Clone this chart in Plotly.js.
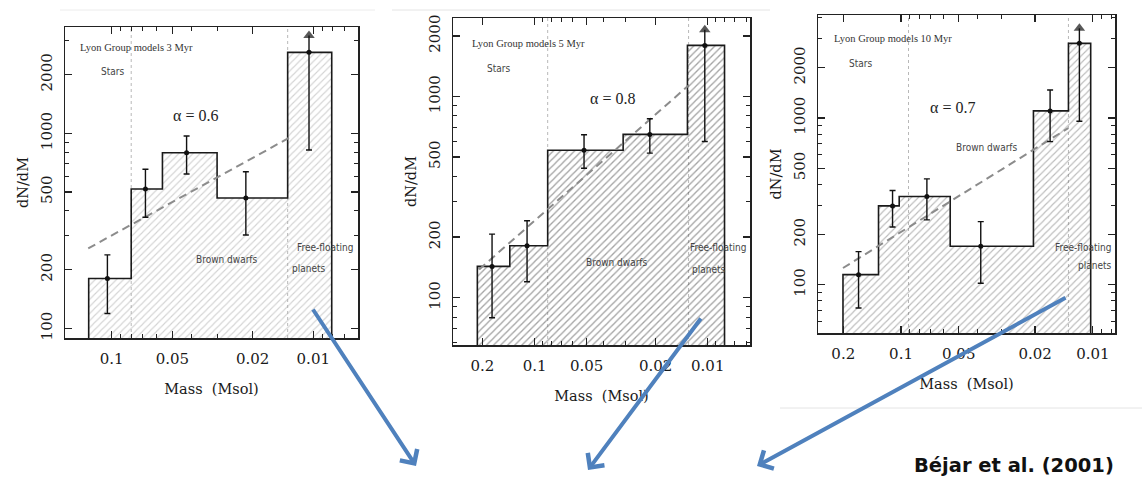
<!DOCTYPE html>
<html>
<head>
<meta charset="utf-8">
<script src="https://cdn.plot.ly/plotly-3.0.1.min.js"></script>
<style>
  html, body { margin: 0; padding: 0; background: #ffffff; }
  #chart { width: 1142px; height: 502px; }
</style>
</head>
<body>
<div id="chart"></div>
<script>
// Substellar mass functions in sigma Orionis for three model ages (Lyon group models)

// ---- 3 Myr ----
const edges3 = [0.130, 0.080, 0.056, 0.030, 0.0134, 0.0081];
const dndm3 = [180, 518, 795, 466, 2600];
const ptMass3 = [0.105, 0.068, 0.0425, 0.0216, 0.0105];
const errHi3 = [238, 654, 968, 635, 2600];
const errLo3 = [119, 371, 618, 301, 821];
const limitTip3 = 3170;
const fitMass3 = [0.1307, 0.01305];
const fitVal3 = [257, 953];
const bounds3 = [0.080, 0.0134];

// ---- 5 Myr ----
const edges5 = [0.214, 0.139, 0.084, 0.0308, 0.0131, 0.0080];
const dndm5 = [143, 181, 540, 648, 1794];
const ptMass5 = [0.176, 0.1105, 0.0518, 0.0216, 0.0104];
const errHi5 = [207, 241, 645, 775, 1794];
const errLo5 = [79.5, 120, 440, 523, 597];
const limitTip5 = 2146;
const fitMass5 = [0.209, 0.01297];
const fitVal5 = [138, 1130];
const bounds5 = [0.084, 0.0129];

// ---- 10 Myr ----
const edges10 = [0.2007, 0.131, 0.1022, 0.0554, 0.0204, 0.0134, 0.01026];
const dndm10 = [115, 297, 338, 170, 1102, 2800];
const ptMass10 = [0.1665, 0.1107, 0.0733, 0.0384, 0.0167, 0.01175];
const errHi10 = [158, 367, 431, 239, 1471, 2800];
const errLo10 = [72.5, 222, 245, 102, 721, 955];
const limitTip10 = 3444;
const fitMass10 = [0.2007, 0.01345];
const fitVal10 = [126, 868];
const bounds10 = [0.0914, 0.0134];

// tick labels
const massTicks3 = [0.1, 0.05, 0.02, 0.01];
const massTicks = [0.2, 0.1, 0.05, 0.02, 0.01];
const dndmTicks = [100, 200, 500, 1000, 2000];
const dndmTicks10 = [50, 100, 200, 500, 1000, 2000];

const W = 1142, H = 502;
const px = v => v / W;
const py = v => 1 - v / H;

const serif = 'DejaVu Serif, Liberation Serif, serif';
const narrow = 'Liberation Sans Narrow, DejaVu Sans Condensed, Liberation Sans, sans-serif';

const traces = [];
const shapes = [];

function panel(n, edges, vals, ptMass, hi, lo, tip, fitM, fitV, bounds, hatch) {
  const xa = n === 1 ? 'x' : 'x' + n;
  const ya = n === 1 ? 'y' : 'y' + n;
  // closed step outline of the histogram, down to a floor below the axis
  const floor = 1;
  const hx = [edges[0]], hy = [floor];
  for (let i = 0; i < vals.length; i++) {
    hx.push(edges[i], edges[i + 1]);
    hy.push(vals[i], vals[i]);
  }
  hx.push(edges[edges.length - 1]); hy.push(floor);
  traces.push({
    x: hx, y: hy, xaxis: xa, yaxis: ya, type: 'scatter', mode: 'lines',
    fill: 'toself', fillcolor: 'rgba(255,255,255,0)',
    fillpattern: { shape: '/', size: hatch.size, solidity: hatch.solidity, fgcolor: hatch.color, bgcolor: 'rgba(255,255,255,0)', fillmode: 'overlay' },
    line: { color: '#1a1a1a', width: 1.6 }, hoverinfo: 'skip', showlegend: false
  });
  // power-law fit
  traces.push({
    x: fitM, y: fitV, xaxis: xa, yaxis: ya, type: 'scatter', mode: 'lines',
    line: { color: '#8c8c8c', width: 2, dash: '8px,5px' }, hoverinfo: 'skip', showlegend: false
  });
  // data points with error bars
  const last = vals.length - 1;
  traces.push({
    x: ptMass, y: vals, xaxis: xa, yaxis: ya, type: 'scatter', mode: 'markers',
    marker: { color: '#111', size: 5 },
    error_y: {
      type: 'data', symmetric: false,
      array: hi.map((h, i) => h - vals[i]),
      arrayminus: lo.map((l, i) => vals[i] - l),
      color: '#111', thickness: 1.4, width: 3
    },
    hoverinfo: 'skip', showlegend: false
  });
  // lower limit arrow on the planetary-mass bin
  traces.push({
    x: [ptMass[last], ptMass[last]], y: [vals[last], tip], xaxis: xa, yaxis: ya,
    type: 'scatter', mode: 'lines+markers',
    line: { color: '#111', width: 1.4 },
    marker: { symbol: 'triangle-up', size: [0, 10], color: '#111', line: { width: 0 } },
    hoverinfo: 'skip', showlegend: false
  });
  // stars / brown dwarfs / planets boundaries
  bounds.forEach(b => shapes.push({
    type: 'line', xref: xa, yref: ya + ' domain', x0: b, x1: b, y0: 0, y1: 1,
    line: { color: '#b8b8b8', width: 1, dash: 'dot' }, layer: 'below'
  }));
}

panel(1, edges3, dndm3, ptMass3, errHi3, errLo3, limitTip3, fitMass3, fitVal3, bounds3,
  { color: '#a8a8a8', size: 5, solidity: 0.22 });
panel(2, edges5, dndm5, ptMass5, errHi5, errLo5, limitTip5, fitMass5, fitVal5, bounds5,
  { color: '#474747', size: 5, solidity: 0.26 });
panel(3, edges10, dndm10, ptMass10, errHi10, errLo10, limitTip10, fitMass10, fitVal10, bounds10,
  { color: '#777777', size: 5, solidity: 0.22 });

const minorTicks = { dtick: 'D1', ticks: 'inside', ticklen: 4, tickwidth: 1, tickcolor: '#222' };

function xAxis(domain, range, ticks, anchor) {
  return {
    type: 'log', domain: domain, range: range, autorange: false, anchor: anchor,
    tickmode: 'array', tickvals: ticks, ticktext: ticks.map(String),
    ticks: 'inside', ticklen: 7, tickwidth: 1.2, tickcolor: '#222',
    minor: minorTicks,
    showline: true, linecolor: '#222', linewidth: 1.5, mirror: 'allticks',
    showgrid: false, zeroline: false, ticklabelstandoff: 6,
    tickfont: { family: serif, size: 15, color: '#1a1a1a' },
    title: { text: 'Mass  (Msol)', font: { family: serif, size: 14.5, color: '#1a1a1a' }, standoff: 17 }
  };
}
function yAxis(domain, range, ticks, anchor) {
  return {
    type: 'log', domain: domain, range: range, autorange: false, anchor: anchor,
    tickmode: 'array', tickvals: ticks, ticktext: ticks.map(String), tickangle: -90,
    ticks: 'inside', ticklen: 7, tickwidth: 1.2, tickcolor: '#222',
    minor: minorTicks,
    showline: true, linecolor: '#222', linewidth: 1.5, mirror: 'allticks',
    showgrid: false, zeroline: false, ticklabelstandoff: 6,
    tickfont: { family: serif, size: 15, color: '#1a1a1a' },
    title: { text: 'dN/dM', font: { family: serif, size: 14.5, color: '#1a1a1a' }, standoff: 5 }
  };
}

const layout = {
  width: W, height: H,
  margin: { l: 0, r: 0, t: 0, b: 0 },
  paper_bgcolor: '#ffffff', plot_bgcolor: 'rgba(0,0,0,0)',
  showlegend: false,
  xaxis: xAxis([px(65), px(358)], [-0.7685, -2.2218], massTicks3, 'y'),
  yaxis: yAxis([py(338), py(27)], [1.9503, 3.545], dndmTicks, 'x'),
  xaxis2: xAxis([px(453), px(750)], [-0.529, -2.244], massTicks, 'y2'),
  yaxis2: yAxis([py(345), py(18)], [1.7647, 3.390], dndmTicks, 'x2'),
  xaxis3: xAxis([px(818), px(1115)], [-0.5672, -2.1156], massTicks, 'y3'),
  yaxis3: yAxis([py(333), py(15)], [1.7108, 3.617], dndmTicks10, 'x3'),
  shapes: shapes.concat([
    { type: 'line', xref: 'paper', yref: 'paper', x0: px(60), x1: px(375), y0: py(10), y1: py(10), line: { color: '#ececec', width: 1 } },
    { type: 'line', xref: 'paper', yref: 'paper', x0: px(392), x1: px(770), y0: py(10), y1: py(10), line: { color: '#e4e4e4', width: 1 } },
    { type: 'line', xref: 'paper', yref: 'paper', x0: px(780), x1: px(1142), y0: py(408), y1: py(408), line: { color: '#e4e4e4', width: 1 } }
  ]),
  annotations: []
};

function label(text, x, y, opts) {
  layout.annotations.push(Object.assign({
    text: text, xref: 'paper', yref: 'paper', x: px(x), y: py(y),
    showarrow: false, xanchor: 'center', yanchor: 'middle',
    font: { family: narrow, size: 10, color: '#444' }
  }, opts || {}));
}
const lyonFont = { family: 'Liberation Serif, serif', size: 10.5, color: '#333' };
const alphaFont = { family: 'Liberation Serif, serif', size: 16, color: '#222' };

label('Lyon Group models 3 Myr', 78, 47, { xanchor: 'left', font: lyonFont });
label('Stars', 112, 72);
label('α = 0.6', 195, 115, { font: alphaFont });
label('Brown dwarfs', 227, 259);
label('Free-floating', 325, 247);
label('planets', 308, 268);

label('Lyon Group models 5 Myr', 470, 43, { xanchor: 'left', font: lyonFont });
label('Stars', 498, 68);
label('α = 0.8', 612, 98, { font: alphaFont });
label('Brown dwarfs', 617, 262);
label('Free-floating', 718, 247);
label('planets', 708, 269);

label('Lyon Group models 10 Myr', 832, 38, { xanchor: 'left', font: lyonFont });
label('Stars', 860, 63);
label('α = 0.7', 952, 107, { font: alphaFont });
label('Brown dwarfs', 987, 148);
label('Free-floating', 1083, 247);
label('planets', 1094, 265);

label('<b>Béjar et al. (2001)</b>', 1014, 465, { font: { family: 'DejaVu Sans, sans-serif', size: 19.5, color: '#111' } });

// blue pointers converging below the panels
function pointer(tipX, tipY, tailX, tailY) {
  layout.annotations.push({
    text: '', xref: 'paper', yref: 'paper', x: px(tipX), y: py(tipY),
    ax: tailX - tipX, ay: tailY - tipY, showarrow: true,
    arrowhead: 4, arrowsize: 1, arrowwidth: 4, arrowcolor: '#4f81bd', standoff: 0
  });
}
pointer(416, 466, 312, 308);
pointer(588, 470, 702, 317);
pointer(757, 466, 1067, 297);

Plotly.newPlot('chart', traces, layout, { staticPlot: true, displayModeBar: false });
</script>
</body>
</html>
